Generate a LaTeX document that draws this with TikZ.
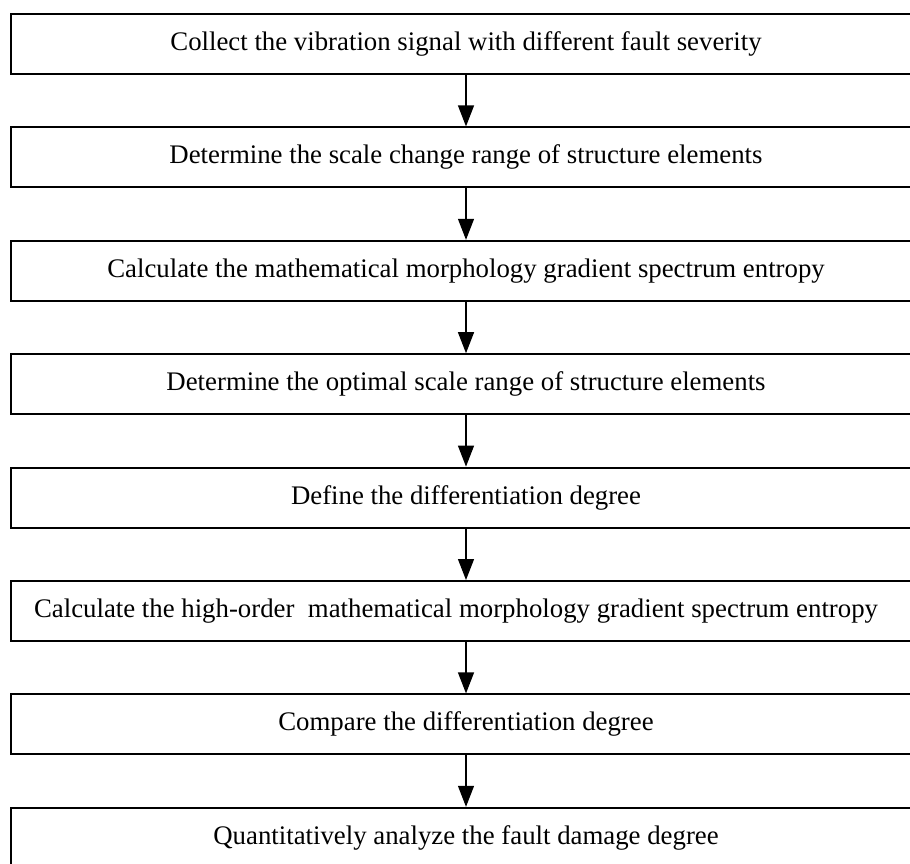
\documentclass[tikz,border=0pt]{standalone}
\usepackage{fontspec}
\setmainfont{Liberation Serif}
\usetikzlibrary{arrows.meta}
\begin{document}
\begin{tikzpicture}[x=1pt,y=-1pt,
  stepbox/.style={draw=black, line width=2pt, minimum width=910pt, minimum height=60pt, inner sep=0pt, font=\fontsize{26.8}{30}\selectfont, anchor=north},
  flow/.style={line width=1.2pt, -{Triangle[width=16pt,length=21pt]}}]
\useasboundingbox (0,0) rectangle (910,863);
\clip (0,0) rectangle (910,863);
\node[stepbox] (b1) at (466,13) {Collect the vibration signal with different fault severity};
\node[stepbox] (b2) at (466,126.4) {Determine the scale change range of structure elements};
\node[stepbox] (b3) at (466,239.8) {Calculate the mathematical morphology gradient spectrum entropy};
\node[stepbox] (b4) at (466,353.2) {Determine the optimal scale range of structure elements};
\node[stepbox] (b5) at (466,466.6) {Define the differentiation degree};
\node[stepbox] (b6) at (466,580) {\hspace*{-20pt}Calculate the high-order\ \ mathematical morphology gradient spectrum entropy};
\node[stepbox] (b7) at (466,693.4) {Compare the differentiation degree};
\node[stepbox] (b8) at (466,806.8) {Quantitatively analyze the fault damage degree};
\foreach \a/\b in {b1/b2,b2/b3,b3/b4,b4/b5,b5/b6,b6/b7,b7/b8}
  \draw[flow] (\a.south) -- (\b.north);
\end{tikzpicture}
\end{document}
